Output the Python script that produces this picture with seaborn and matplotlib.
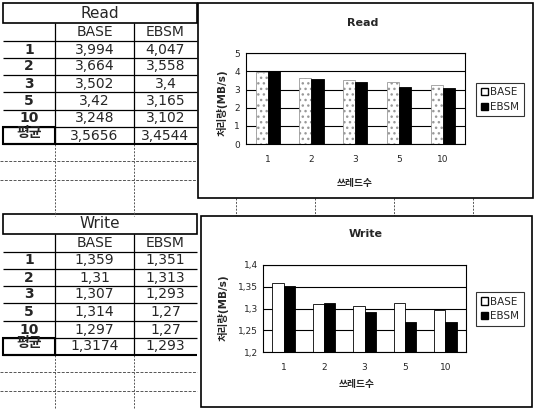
import numpy as np
import pandas as pd
import matplotlib
matplotlib.use('Agg')
import matplotlib.pyplot as plt
from matplotlib.patches import Rectangle, Patch
from matplotlib.ticker import FuncFormatter, MultipleLocator
import seaborn as sns

# 데이터
threads = ['1', '2', '3', '5', '10']
series = ['BASE', 'EBSM']
read_base = [3.994, 3.664, 3.502, 3.42, 3.248]
read_ebsm = [4.047, 3.558, 3.4, 3.165, 3.102]
read_avg = [3.5656, 3.4544]
write_base = [1.359, 1.31, 1.307, 1.314, 1.297]
write_ebsm = [1.351, 1.313, 1.293, 1.27, 1.27]
write_avg = [1.3174, 1.293]
avg_label = '평균'
y_label = '처리량(MB/s)'
x_label = '쓰레드수'

sns.set_style('white')
plt.rcParams['font.family'] = ['DejaVu Sans', 'Noto Sans CJK KR']

W, H = 534, 409
fig = plt.figure(figsize=(W / 100, H / 100), dpi=100, facecolor='white')

# 전체 픽셀 좌표용 배경 축
bg = fig.add_axes([0, 0, 1, 1])
bg.set_xlim(0, W)
bg.set_ylim(H, 0)
bg.axis('off')

COLS = [3, 55, 134, 197]
ROW_EDGES = [0, 20, 38, 55, 72, 89, 107, 124, 141, 158, 177, 195]


def comma(v):
    return f'{v:g}'.replace('.', ',')


def line(xs, ys, lw=0.9, color='black', ls='-'):
    bg.plot(xs, ys, color=color, lw=lw, ls=ls, solid_capstyle='butt')


def draw_table(top, title, base, ebsm, avg):
    r = [top + e for e in ROW_EDGES]
    mid = lambda i: (r[i] + r[i + 1]) / 2
    cx = [(COLS[i] + COLS[i + 1]) / 2 for i in range(3)]

    # 제목 칸
    bg.add_patch(Rectangle((COLS[0], r[0]), COLS[3] - COLS[0], r[1] - r[0],
                           fill=False, lw=1.2, ec='black'))
    bg.text(cx[1] + 5, mid(0), title, ha='center', va='center', fontsize=11)

    # 세로선
    for x in COLS[1:3]:
        line([x, x], [r[1], r[8]])
        line([x, x], [r[8], r[11] + 18], lw=0.7, color='#555555', ls=(0, (2, 1.5)))

    # 가로선
    for i in range(2, 8):
        line([COLS[0], COLS[3]], [r[i], r[i]])
    bg.add_patch(Rectangle((COLS[0], r[7]), COLS[1] - COLS[0], r[8] - r[7],
                           fill=False, lw=1.5, ec='black'))
    line([COLS[0], COLS[3]], [r[8], r[8]], lw=1.5)
    for i in (9, 10):
        line([0, COLS[3]], [r[i], r[i]], lw=0.7, color='#555555', ls=(0, (3, 1.5)))

    # 글자
    bg.text(cx[1], mid(1), series[0], ha='center', va='center', fontsize=10)
    bg.text(cx[2], mid(1), series[1], ha='center', va='center', fontsize=10)
    for k, t in enumerate(threads):
        bg.text(cx[0], mid(2 + k), t, ha='center', va='center', fontsize=10, fontweight='bold')
        bg.text(cx[1], mid(2 + k), comma(base[k]), ha='center', va='center', fontsize=10)
        bg.text(cx[2], mid(2 + k), comma(ebsm[k]), ha='center', va='center', fontsize=10)
    bg.text(cx[0], mid(7) - 3, avg_label, ha='center', va='center', fontsize=10, fontweight='bold')
    bg.text(cx[1], mid(7), comma(avg[0]), ha='center', va='center', fontsize=10)
    bg.text(cx[2], mid(7), comma(avg[1]), ha='center', va='center', fontsize=10)


def draw_chart(plot_px, title, title_xy, base, ebsm, ylim, step, hatch, base_edge,
               legend_xy, xlabel_xy, ylabel_xy):
    x0, y0, x1, y1 = plot_px
    ax = fig.add_axes([x0 / W, 1 - y1 / H, (x1 - x0) / W, (y1 - y0) / H])
    df = pd.DataFrame({
        'thread': threads * 2,
        'series': [series[0]] * len(threads) + [series[1]] * len(threads),
        'value': base + ebsm,
    })
    sns.barplot(data=df, x='thread', y='value', hue='series', order=threads,
                hue_order=series, palette={'BASE': 'white', 'EBSM': 'black'},
                width=0.55, edgecolor='black', linewidth=0.6, legend=False,
                ax=ax)
    for bar in ax.containers[0]:
        bar.set_hatch(hatch)
        bar.set_edgecolor(base_edge)

    ax.set_ylim(*ylim)
    ax.yaxis.set_major_locator(MultipleLocator(step))
    ax.yaxis.set_major_formatter(FuncFormatter(lambda v, p: comma(round(v, 3))))
    ax.yaxis.grid(True, color='black', lw=0.8)
    ax.set_axisbelow(True)
    for s in ax.spines.values():
        s.set_color('black')
        s.set_linewidth(0.8)
    ax.tick_params(axis='y', length=2, width=0.6, labelsize=6.5, pad=2)
    ax.tick_params(axis='x', length=0, labelsize=6.5, pad=8)

    w, h = x1 - x0, y1 - y0
    ax.set_xlabel(x_label, fontsize=7, fontweight='bold', va='center')
    ax.xaxis.set_label_coords((xlabel_xy[0] - x0) / w, (y1 - xlabel_xy[1]) / h)
    ax.set_ylabel(y_label, fontsize=7.5, fontweight='bold', va='center')
    ax.yaxis.set_label_coords((ylabel_xy[0] - x0) / w, (y1 - ylabel_xy[1]) / h)

    bg.text(title_xy[0], title_xy[1], title, ha='center', va='center',
            fontsize=8, fontweight='bold')

    handles = [Patch(facecolor='white', edgecolor='black', label=series[0]),
               Patch(facecolor='black', edgecolor='black', label=series[1])]
    leg = fig.legend(handles=handles, loc='center',
                     bbox_to_anchor=(legend_xy[0] / W, 1 - legend_xy[1] / H),
                     frameon=True, fancybox=False, edgecolor='black', fontsize=7.5,
                     handlelength=0.7, handleheight=0.7, handletextpad=0.25,
                     borderpad=0.4, labelspacing=0.45, borderaxespad=0)
    leg.get_frame().set_linewidth(0.8)
    return ax


# 표
draw_table(3, 'Read', read_base, read_ebsm, read_avg)
draw_table(214, 'Write', write_base, write_ebsm, write_avg)

# 두 차트 사이 셀 구분선
for x in [236, 315, 394, 473]:
    line([x, x], [198, 216], lw=0.7, color='#555555', ls=(0, (2, 1.5)))

# 차트 테두리
bg.add_patch(Rectangle((198, 3), 335, 195, fc='white', ec='black', lw=1.2, zorder=3))
bg.add_patch(Rectangle((201, 216), 331, 191, fc='white', ec='black', lw=1.2, zorder=3))

draw_chart((245.7, 53.3, 465, 144), 'Read', (363, 23), read_base, read_ebsm,
           (0, 5), 1, '...', '#999999', (500, 99.5), (355, 183), (222, 103))
draw_chart((263.3, 265, 465.7, 352.3), 'Write', (366, 234), write_base, write_ebsm,
           (1.2, 1.4), 0.05, '', 'black', (500, 309), (357, 384), (223, 308))

fig.savefig('out.png', dpi=100, facecolor='white')
